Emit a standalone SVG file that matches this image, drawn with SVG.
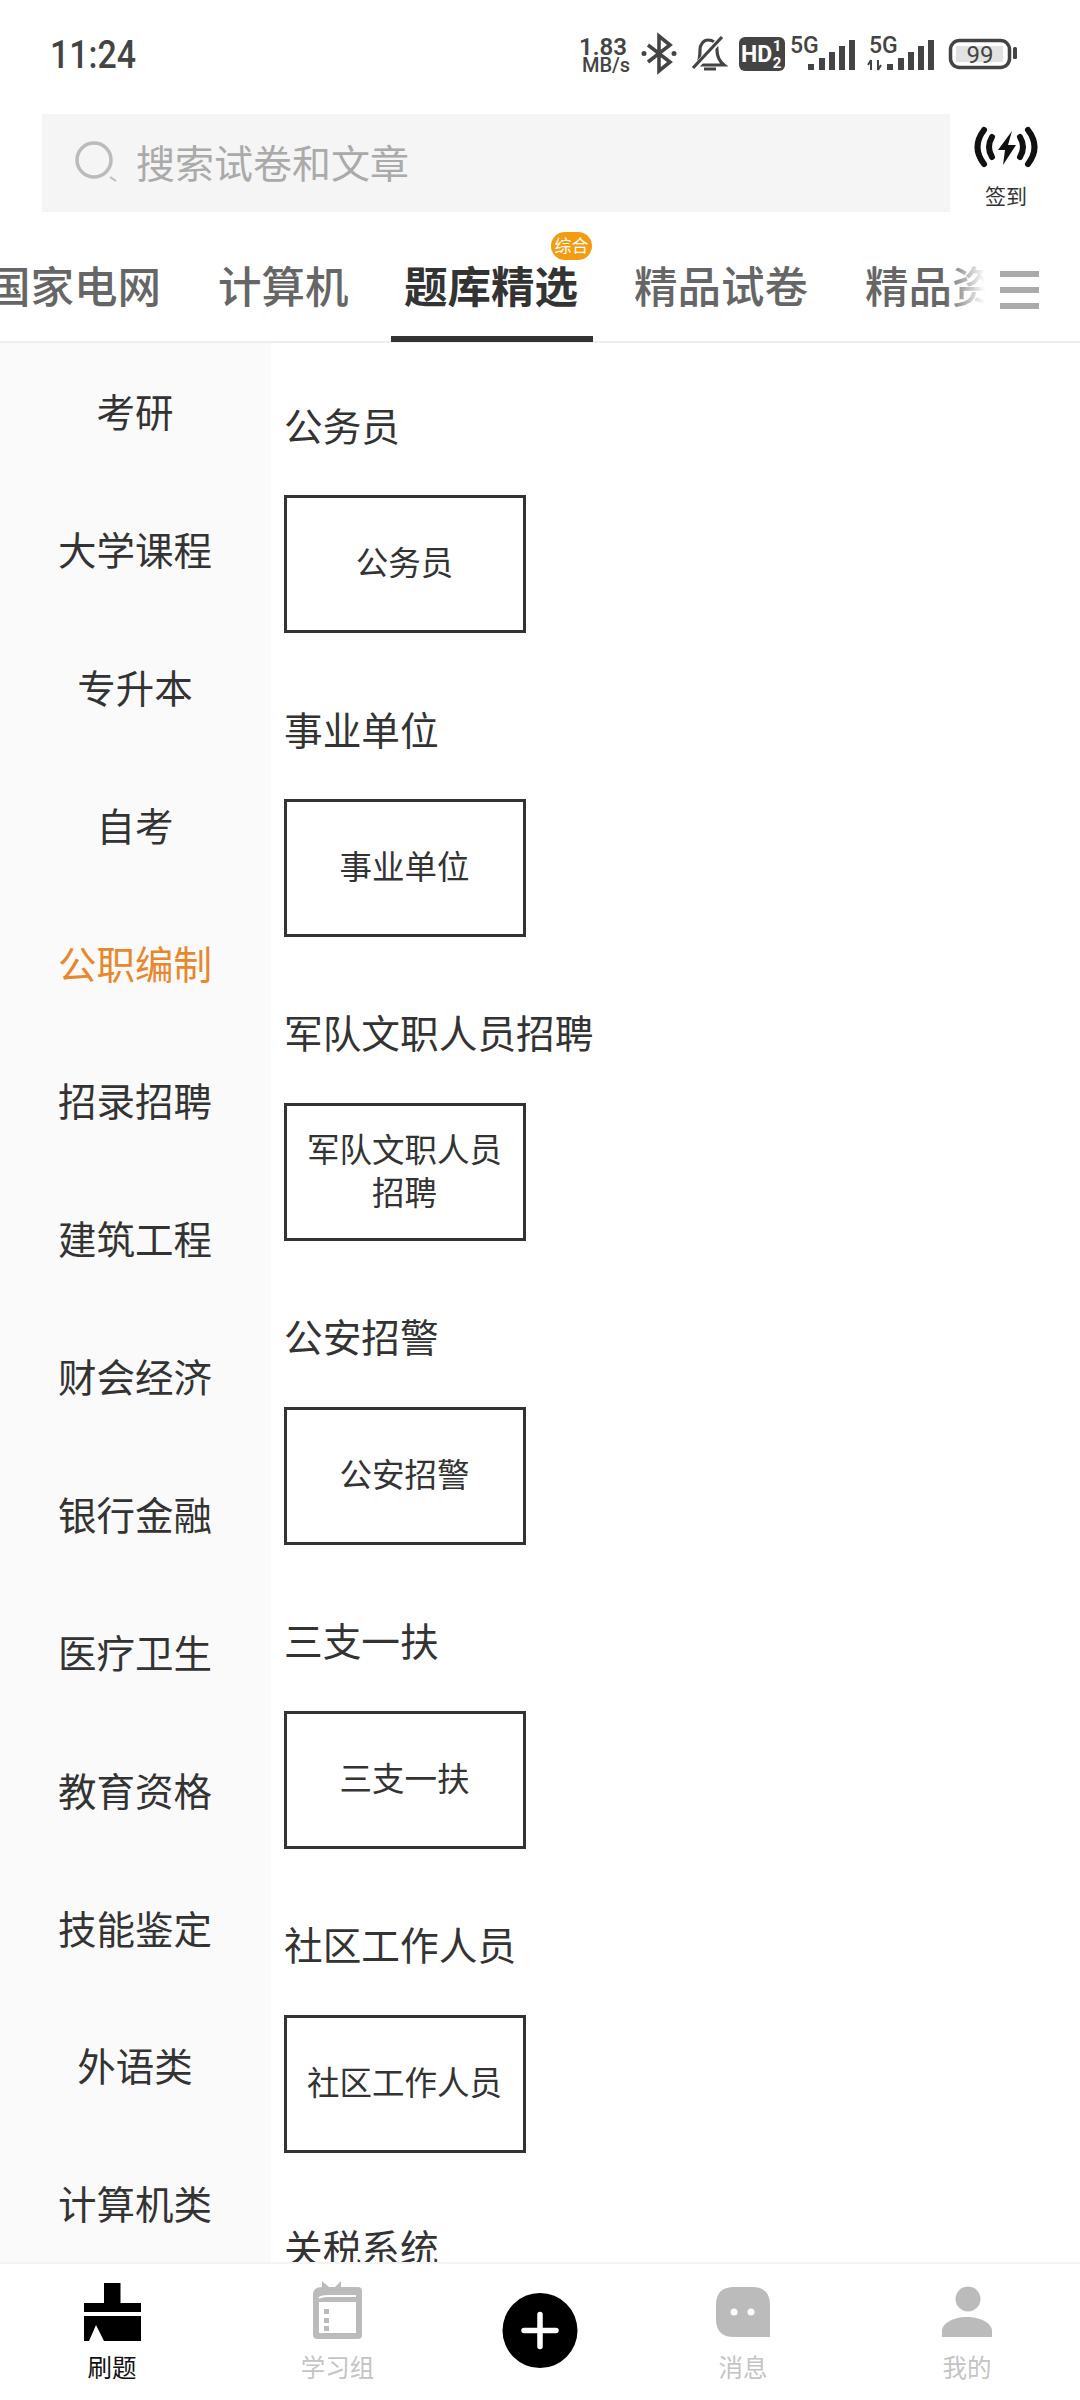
<svg xmlns="http://www.w3.org/2000/svg" width="1080" height="2400" viewBox="0 0 1080 2400">
<style>
text{font-family:"Noto Sans CJK SC","Noto Sans",sans-serif;fill:#333}
.m{text-anchor:middle}
.side{font-size:38.5px;text-anchor:middle}
.head{font-size:38.7px}
.lbl{font-size:32.5px;text-anchor:middle}
.box{fill:#fff;stroke:#333;stroke-width:3}
.tab{font-size:43.5px;font-weight:500;fill:#666}
.nav{font-size:24.5px;text-anchor:middle;fill:#c4c4c4}
.ic{fill:#bbb}
.st{font-family:Roboto,"Liberation Sans",sans-serif;fill:#444}
.bar{fill:#444}
.arc{fill:none;stroke:#111;stroke-width:6;stroke-linecap:round}
</style>
<defs>
<linearGradient id="fade" x1="0" x2="1" y1="0" y2="0"><stop offset="0" stop-color="#fff" stop-opacity="0"/><stop offset="1" stop-color="#fff"/></linearGradient>
</defs>
<rect width="1080" height="2400" fill="#fff"/>

<g id="status-bar">
<text class="st" x="50" y="68" font-size="38" font-weight="500" textLength="86" lengthAdjust="spacingAndGlyphs">11:24</text>
<text class="st" x="603" y="55" font-size="24" font-weight="600" text-anchor="middle">1.83</text>
<text class="st" x="606" y="72" font-size="20" font-weight="500" text-anchor="middle">MB/s</text>
<path d="M648 45L670 62L659 71V36L670 45L648 62" fill="none" stroke="#444" stroke-width="3.6"/>
<circle cx="644" cy="53.500" r="2.500" fill="#444"/><circle cx="674" cy="53.500" r="2.500" fill="#444"/>
<path d="M697 65H724C718 60 717 55 717 50C717 42 712 40 708 40C704 40 700 44 700 50C700 56 700 60 697 65ZM704 69H716" fill="none" stroke="#444" stroke-width="3.200"/>
<path d="M693 70L722 37" stroke="#fff" stroke-width="6"/><path d="M693 68L722 37" stroke="#444" stroke-width="3.200"/>
<rect x="739" y="37" width="46" height="34" rx="6" fill="#444"/>
<text x="741" y="62" font-size="23" font-weight="700" style="fill:#fff;font-family:Roboto,sans-serif">HD</text>
<text x="777" y="51" font-size="15" font-weight="700" text-anchor="middle" style="fill:#fff;font-family:Roboto,sans-serif">1</text>
<text x="777" y="68" font-size="15" font-weight="700" text-anchor="middle" style="fill:#fff;font-family:Roboto,sans-serif">2</text>
<text class="st" x="790" y="53" font-size="23" font-weight="500">5G</text>
<g class="bar"><rect x="808" y="64" width="6" height="6"/><rect x="819" y="58" width="6" height="12"/><rect x="829" y="52" width="6" height="18"/><rect x="839" y="46" width="6" height="24"/><rect x="849" y="40" width="6" height="30"/></g>
<text class="st" x="869" y="53" font-size="23" font-weight="500">5G</text>
<path d="M871 60V70M871 60L868 65M878 60V70M878 70L881 65" stroke="#444" stroke-width="2" fill="none"/>
<g class="bar"><rect x="887" y="64" width="6" height="6"/><rect x="898" y="58" width="6" height="12"/><rect x="908" y="52" width="6" height="18"/><rect x="918" y="46" width="6" height="24"/><rect x="928" y="40" width="6" height="30"/></g>
<rect x="950.500" y="40.500" width="59" height="27" rx="9" fill="none" stroke="#444" stroke-width="3.500"/>
<rect x="956" y="46" width="47" height="16" fill="#e2e2e2"/>
<text class="st" x="980" y="63" font-size="24" text-anchor="middle">99</text>
<rect x="1013" y="47" width="4" height="12" rx="1.500" fill="#444"/>
</g>

<g id="search-box">
<rect x="42" y="114" width="908" height="98" fill="#f5f5f5"/>
<circle cx="94" cy="160" r="17" fill="none" stroke="#bbb" stroke-width="3.500"/>
<path d="M110 177L116 181" stroke="#bbb" stroke-width="2"/>
<text x="136" y="178" font-size="39" style="fill:#aaa">搜索试卷和文章</text>
</g>

<g id="sign-in">
<path d="M1012 131L998 150H1005L1003 165L1016 145H1008Z" fill="#111"/>
<path class="arc" d="M984 130Q971 147 984 164M992 137Q986 147 992 157M1020 137Q1026 147 1020 157M1028 130Q1041 147 1028 164"/>
<text class="m" x="1006" y="204" font-size="21">签到</text>
</g>

<g id="tabs">
<text class="tab" x="-13" y="303">国家电网</text>
<text class="tab" x="218" y="303">计算机</text>
<text x="404" y="303" font-size="43.500" font-weight="700">题库精选</text>
<text class="tab" x="634" y="303">精品试卷</text>
<text class="tab" x="865" y="303">精品资</text>
<rect x="945" y="250" width="40" height="70" fill="url(#fade)"/>
<rect x="985" y="260" width="95" height="60" fill="#fff"/>
<g fill="#aaa"><rect x="1000" y="271" width="39" height="6"/><rect x="1000" y="287" width="39" height="6"/><rect x="1000" y="303" width="39" height="6"/></g>
<rect x="551" y="232" width="41" height="28" rx="14" fill="#f39c12"/>
<text class="m" x="571.500" y="252" font-size="17" style="fill:#fff">综合</text>
<rect x="0" y="341" width="1080" height="2" fill="#eee"/>
<rect x="391" y="336" width="202" height="6" fill="#333"/>
</g>

<g id="sidebar">
<rect x="0" y="343" width="271" height="1920" fill="#fafafa"/>
<text class="side" x="135" y="427">考研</text>
<text class="side" x="135" y="565">大学课程</text>
<text class="side" x="135" y="703">专升本</text>
<text class="side" x="135" y="841">自考</text>
<text class="side" x="135" y="979" style="fill:#e8872b">公职编制</text>
<text class="side" x="135" y="1116">招录招聘</text>
<text class="side" x="135" y="1254">建筑工程</text>
<text class="side" x="135" y="1392">财会经济</text>
<text class="side" x="135" y="1530">银行金融</text>
<text class="side" x="135" y="1668">医疗卫生</text>
<text class="side" x="135" y="1806">教育资格</text>
<text class="side" x="135" y="1944">技能鉴定</text>
<text class="side" x="135" y="2081">外语类</text>
<text class="side" x="135" y="2219">计算机类</text>
</g>

<g id="section-1"><text class="head" x="284" y="440.500">公务员</text><rect class="box" x="285.500" y="496.500" width="239" height="135"/><text class="lbl" x="404.500" y="575">公务员</text></g>
<g id="section-2"><text class="head" x="284" y="744.500">事业单位</text><rect class="box" x="285.500" y="800.500" width="239" height="135"/><text class="lbl" x="404.500" y="879">事业单位</text></g>
<g id="section-3"><text class="head" x="284" y="1048">军队文职人员招聘</text><rect class="box" x="285.500" y="1104.500" width="239" height="135"/><text class="lbl" x="404.500" y="1162">军队文职人员</text><text class="lbl" x="404.500" y="1205">招聘</text></g>
<g id="section-4"><text class="head" x="284" y="1352">公安招警</text><rect class="box" x="285.500" y="1408.500" width="239" height="135"/><text class="lbl" x="404.500" y="1487">公安招警</text></g>
<g id="section-5"><text class="head" x="284" y="1656">三支一扶</text><rect class="box" x="285.500" y="1712.500" width="239" height="135"/><text class="lbl" x="404.500" y="1791">三支一扶</text></g>
<g id="section-6"><text class="head" x="284" y="1960">社区工作人员</text><rect class="box" x="285.500" y="2016.500" width="239" height="135"/><text class="lbl" x="404.500" y="2095">社区工作人员</text></g>
<g id="section-7"><text class="head" x="284" y="2263">关税系统</text></g>

<g id="bottom-nav">
<rect x="0" y="2263" width="1080" height="137" fill="#fff"/>
<rect x="0" y="2262" width="1080" height="2" fill="#f3f3f3"/>
<g id="nav-shuati">
<path d="M104 2283H120.500V2303H141V2312H84V2303H104ZM84 2316H141V2341H104L96 2325L89 2341H84Z" fill="#000"/>
<text class="m" x="112" y="2377" font-size="24.500" style="fill:#111">刷题</text>
</g>
<g id="nav-group">
<path d="M322 2281L329 2287H335L341 2281V2287H358Q362 2287 362 2291V2335Q362 2339 358 2339H318Q313 2339 313 2335V2295Q313 2287 322 2287Z" class="ic"/>
<rect x="319" y="2302" width="37" height="31" fill="#fff"/>
<path d="M319 2298Q322 2296 328 2296H356" stroke="#fff" stroke-width="2" fill="none"/>
<g class="ic"><rect x="324" y="2309" width="5" height="5"/><rect x="324" y="2318" width="5" height="5"/><rect x="324" y="2326" width="5" height="5"/></g>
<text class="nav" x="337.500" y="2377">学习组</text>
</g>
<g id="nav-add">
<circle cx="540" cy="2330.500" r="37.500" fill="#000"/>
<path d="M524 2330.500H556M540 2314.500V2346.500" stroke="#fff" stroke-width="5.500" stroke-linecap="round"/>
</g>
<g id="nav-message">
<path d="M734 2287H752Q770 2287 770 2305V2337H734Q716 2337 716 2319V2305Q716 2287 734 2287Z" class="ic"/>
<circle cx="734" cy="2312" r="3.500" fill="#fff"/><circle cx="751" cy="2312" r="3.500" fill="#fff"/>
<text class="nav" x="743" y="2377">消息</text>
</g>
<g id="nav-me">
<circle cx="968" cy="2299" r="12.500" class="ic"/>
<path d="M942 2337V2331C942 2323 954 2317 967 2317C980 2317 992 2323 992 2331V2337Z" class="ic"/>
<text class="nav" x="967" y="2377">我的</text>
</g>
</g>
</svg>
